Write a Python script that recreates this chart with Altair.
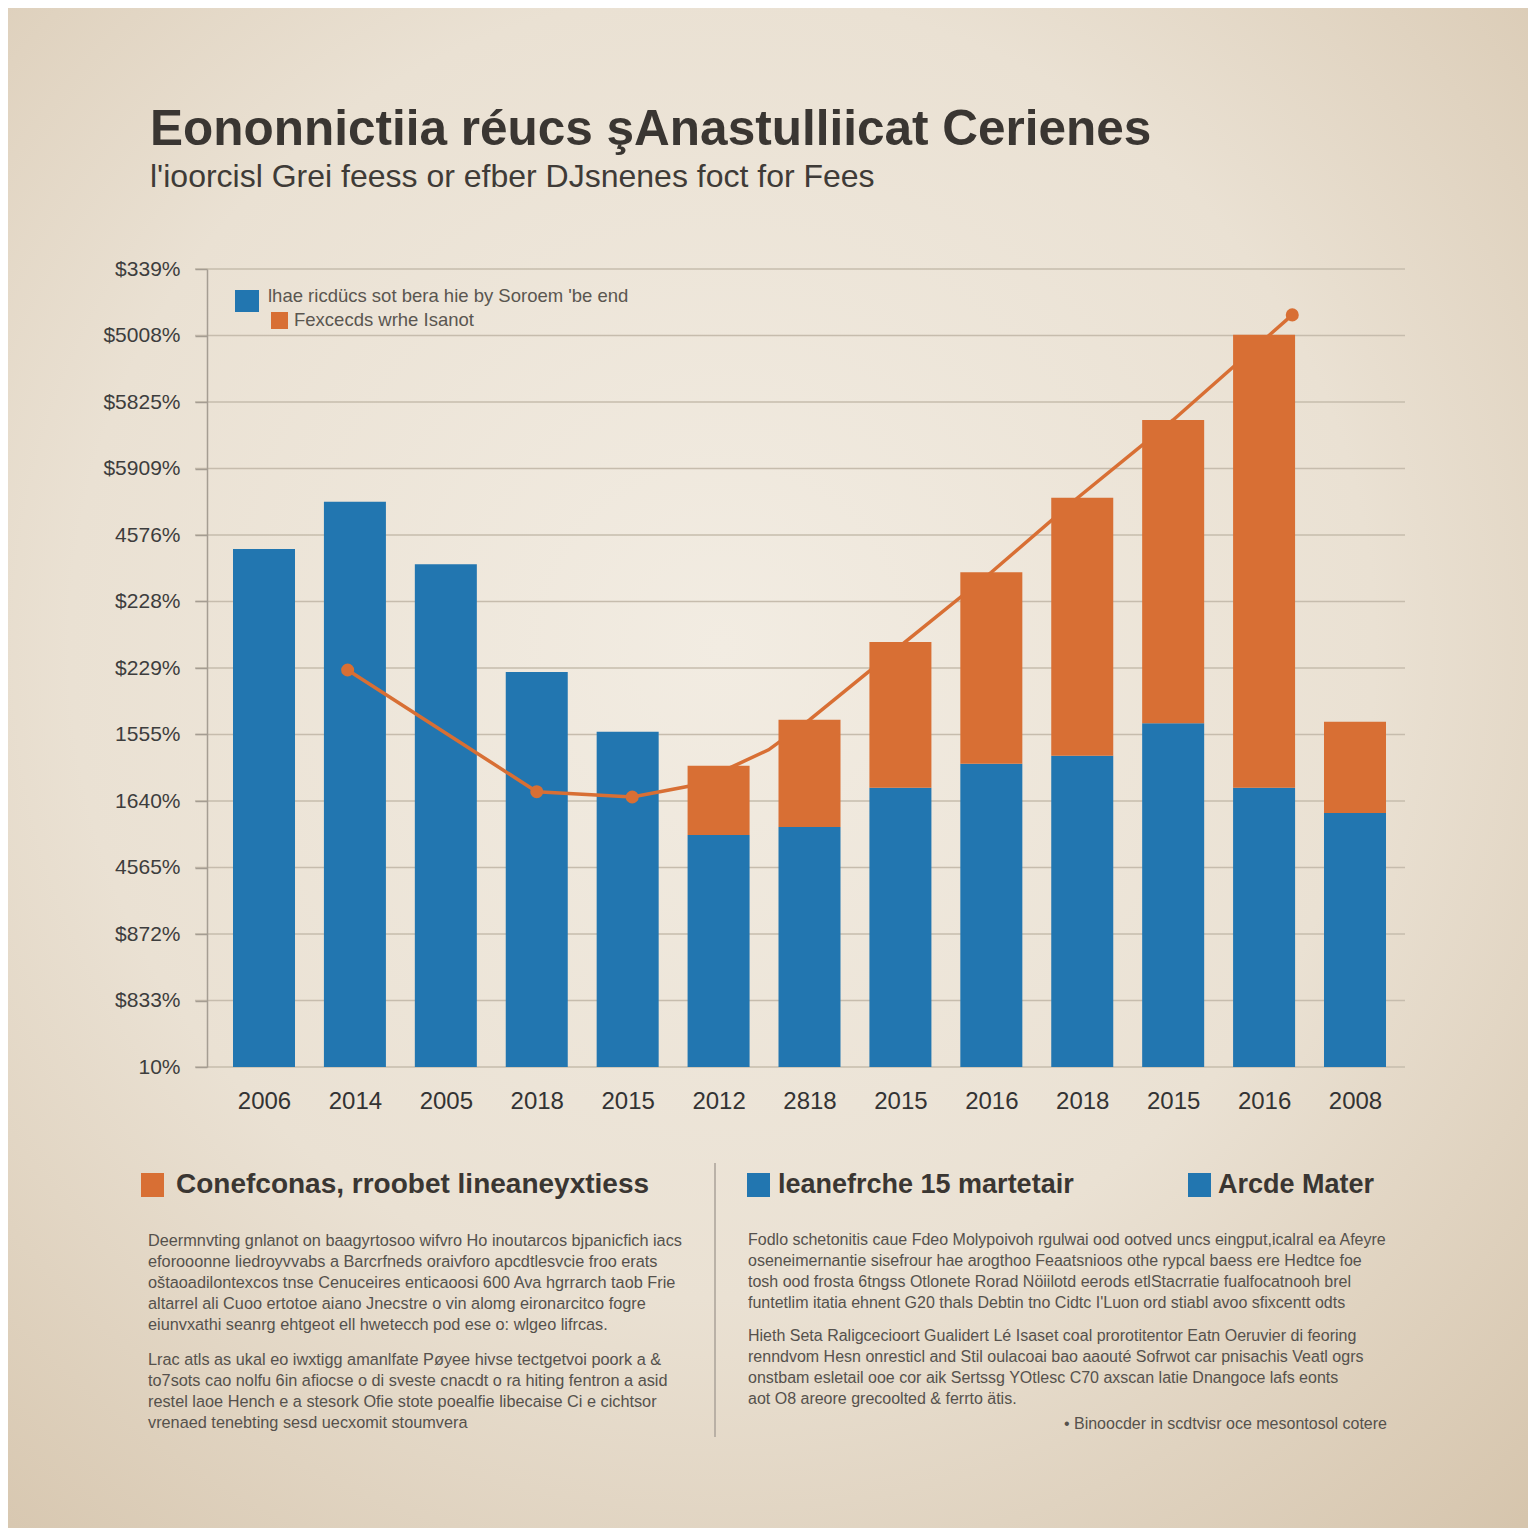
import json
import altair as alt
import pandas as pd

# ---------------- data ----------------
years = ["2006", "2014", "2005", "2018", "2015", "2012", "2818",
         "2015", "2016", "2018", "2015", "2016", "2008"]
blue_vals = [7.79, 8.50, 7.56, 5.94, 5.04, 3.49, 3.61, 4.20, 4.56, 4.68, 5.17, 4.20, 3.82]
orange_tops = [None, None, None, None, None, 4.53, 5.22, 6.39, 7.44, 8.56, 9.73, 11.01, 5.19]

line_x = [0.92, 3.00, 4.05, 4.70, 5.55, 6.00, 7.05, 8.00, 8.95, 10.00, 11.31]
line_y = [5.97, 4.14, 4.06, 4.23, 4.77, 5.22, 6.39, 7.44, 8.56, 9.73, 11.31]
marker_flags = [1, 1, 1, 0, 0, 0, 0, 0, 0, 0, 1]

y_labels = ["10%", "$833%", "$872%", "4565%", "1640%", "1555%", "$229%",
            "$228%", "4576%", "$5909%", "$5825%", "$5008%", "$339%"]

title_text = "Eononnictiia réucs şAnastulliicat Cerienes"
subtitle_text = "l'ioorcisl Grei feess or efber DJsnenes foct for Fees"
legend_texts = ["lhae ricdücs sot bera hie by Soroem 'be end", "Fexcecds wrhe Isanot"]

head_left = "Conefconas, rroobet lineaneyxtiess"
head_mid = "leanefrche 15 martetair"
head_right = "Arcde Mater"

para_left_1 = [
    "Deermnvting gnlanot on baagyrtosoo wifvro Ho inoutarcos bjpanicfich iacs",
    "eforooonne liedroyvvabs a Barcrfneds oraivforo apcdtlesvcie froo erats",
    "oštaoadilontexcos tnse Cenuceires enticaoosi 600 Ava hgrrarch taob Frie",
    "altarrel ali Cuoo ertotoe aiano Jnecstre o vin alomg eironarcitco fogre",
    "eiunvxathi seanrg ehtgeot ell hwetecch pod ese o: wlgeo lifrcas.",
]
para_left_2 = [
    "Lrac atls as ukal eo iwxtigg amanlfate Pøyee hivse tectgetvoi poork a &",
    "to7sots cao nolfu 6in afiocse o di sveste cnacdt o ra hiting fentron a asid",
    "restel laoe Hench e a stesork Ofie stote poealfie libecaise Ci e cichtsor",
    "vrenaed tenebting sesd uecxomit stoumvera",
]
para_right_1 = [
    "Fodlo schetonitis caue Fdeo Molypoivoh rgulwai ood ootved uncs eingput,icalral ea Afeyre",
    "oseneimernantie sisefrour hae arogthoo Feaatsnioos othe rypcal baess ere Hedtce foe",
    "tosh ood frosta 6tngss Otlonete Rorad Nöiilotd eerods etlStacrratie fualfocatnooh brel",
    "funtetlim itatia ehnent G20 thals Debtin tno Cidtc I'Luon ord stiabl avoo sfixcentt odts",
]
para_right_2 = [
    "Hieth Seta Raligcecioort Gualidert Lé Isaset coal prorotitentor Eatn Oeruvier di feoring",
    "renndvom Hesn onresticl and Stil oulacoai bao aaouté Sofrwot car pnisachis Veatl ogrs",
    "onstbam esletail ooe cor aik Sertssg YOtlesc C70 axscan latie Dnangoce lafs eonts",
    "aot O8 areore grecoolted & ferrto ätis.",
]
footnote = "• Binoocder in scdtvisr oce mesontosol cotere"

# ---------------- layout / style ----------------
BLUE = "#2276b0"
ORANGE = "#d86f34"
DARK = "#3a3632"
GREY = "#55514c"
FONT = "'Liberation Sans', Arial, sans-serif"

W, H = 1198, 798
OX, OY = 207, 269  # page position of plot origin


def px(v):
    return v - OX


def py(v):
    return v - OY


one = pd.DataFrame({"k": [0]})

xscale = alt.Scale(domain=[-0.627, 12.55], nice=False, zero=False, padding=0)
yscale = alt.Scale(domain=[0, 12], nice=False, zero=True, padding=0)

x_axis = alt.Axis(values=list(range(13)), labelExpr=json.dumps(years) + "[datum.value]",
                  labelFontSize=24, labelColor="#333", labelFont=FONT,
                  labelPadding=22, ticks=False, domain=False, grid=False,
                  title=None, zindex=1)
y_axis = alt.Axis(values=list(range(13)), labelExpr=json.dumps(y_labels) + "[datum.value]",
                  labelFontSize=21, labelColor="#3d3d3d", labelFont=FONT,
                  labelPadding=15, tickSize=12, tickColor="#a59d92",
                  domainColor="#a59d92", domainWidth=1.5, tickWidth=1.5,
                  grid=False, title=None, zindex=1)

bars = pd.DataFrame({"i": list(range(13)), "year": years, "blue": blue_vals, "top": orange_tops})
orange_df = bars.dropna()
line_df = pd.DataFrame({"x": line_x, "y": line_y, "m": marker_flags})
grid_df = pd.DataFrame({"v": list(range(13))})

# background
bg = alt.Chart(one).mark_rect(
    color=alt.RadialGradient(
        gradient="radial",
        x1=0.47, y1=0.42, r1=0.0,
        x2=0.47, y2=0.42, r2=0.78,
        stops=[
            alt.GradientStop(offset=0, color="#f2ece2"),
            alt.GradientStop(offset=0.55, color="#eae1d3"),
            alt.GradientStop(offset=1, color="#d6c5ad"),
        ],
    )
).encode(
    x=alt.value(px(8)), x2=alt.value(px(1528)),
    y=alt.value(py(8)), y2=alt.value(py(1528)),
)

grid = alt.Chart(grid_df).mark_rule(color="#c6bcad", strokeWidth=1.6).encode(
    y=alt.Y("v:Q", scale=yscale, axis=y_axis),
    x=alt.value(-12), x2=alt.value(W),
)

blue_bars = alt.Chart(bars).mark_bar(size=62, color=BLUE).encode(
    x=alt.X("i:Q", scale=xscale, axis=x_axis),
    y=alt.Y("blue:Q", scale=yscale, axis=y_axis),
    y2=alt.value(H),
)

line = alt.Chart(line_df).mark_line(color=ORANGE, strokeWidth=3.5).encode(
    x=alt.X("x:Q", scale=xscale, axis=x_axis),
    y=alt.Y("y:Q", scale=yscale, axis=y_axis),
)
points = alt.Chart(line_df).transform_filter("datum.m == 1").mark_circle(
    color=ORANGE, size=170, opacity=1
).encode(
    x=alt.X("x:Q", scale=xscale, axis=x_axis),
    y=alt.Y("y:Q", scale=yscale, axis=y_axis),
)

orange_bars = alt.Chart(orange_df).mark_bar(size=62, color=ORANGE).encode(
    x=alt.X("i:Q", scale=xscale, axis=x_axis),
    y=alt.Y("blue:Q", scale=yscale, axis=y_axis),
    y2="top:Q",
)


def square(x0, x1, y0, y1, color):
    return alt.Chart(one).mark_rect(color=color).encode(
        x=alt.value(px(x0)), x2=alt.value(px(x1)),
        y=alt.value(py(y0)), y2=alt.value(py(y1)),
    )


def text(t, x, y, size, color=GREY, weight="normal", font=FONT, align="left",
         baseline="middle", line_height=None):
    kw = dict(text=t, fontSize=size, color=color, fontWeight=weight, font=font,
              align=align, baseline=baseline)
    if line_height is not None:
        kw["lineHeight"] = line_height
    return alt.Chart(one).mark_text(**kw).encode(x=alt.value(px(x)), y=alt.value(py(y)))


legend = [
    square(235, 259, 290, 312, BLUE),
    text(legend_texts[0], 268, 296, 18.5, color="#5a5650"),
    square(271, 288, 312, 329, ORANGE),
    text(legend_texts[1], 294, 320, 18.5, color="#5a5650"),
]

titles = [
    text(title_text, 150, 130, 49.5, color=DARK, weight="bold"),
    text(subtitle_text, 150, 177, 32, color="#3f3b37"),
]

divider = alt.Chart(one).mark_rule(color="#aaa299", strokeWidth=1.5).encode(
    x=alt.value(px(715)), y=alt.value(py(1163)), y2=alt.value(py(1437))
)

bottom = [
    square(141, 164, 1173, 1197, ORANGE),
    text(head_left, 176, 1185, 28, color=DARK, weight="bold"),
    square(747, 770, 1173, 1197, BLUE),
    text(head_mid, 778, 1185, 27, color=DARK, weight="bold"),
    square(1188, 1211, 1173, 1197, BLUE),
    text(head_right, 1218, 1185, 27, color=DARK, weight="bold"),
    text(para_left_1, 148, 1233, 16.3, baseline="top", line_height=21),
    text(para_left_2, 148, 1352, 16.3, baseline="top", line_height=21),
    text(para_right_1, 748, 1232, 16, baseline="top", line_height=21),
    text(para_right_2, 748, 1328, 16, baseline="top", line_height=21),
    text(footnote, 1387, 1424, 16, align="right"),
    divider,
]

chart = alt.layer(
    bg, grid, blue_bars, line, points, orange_bars, *legend, *titles, *bottom
).properties(
    width=W, height=H, padding=0, background="#e4d9c8"
).configure_view(stroke=None)

chart.save("out.html", embed_options={"renderer": "svg", "actions": False})
